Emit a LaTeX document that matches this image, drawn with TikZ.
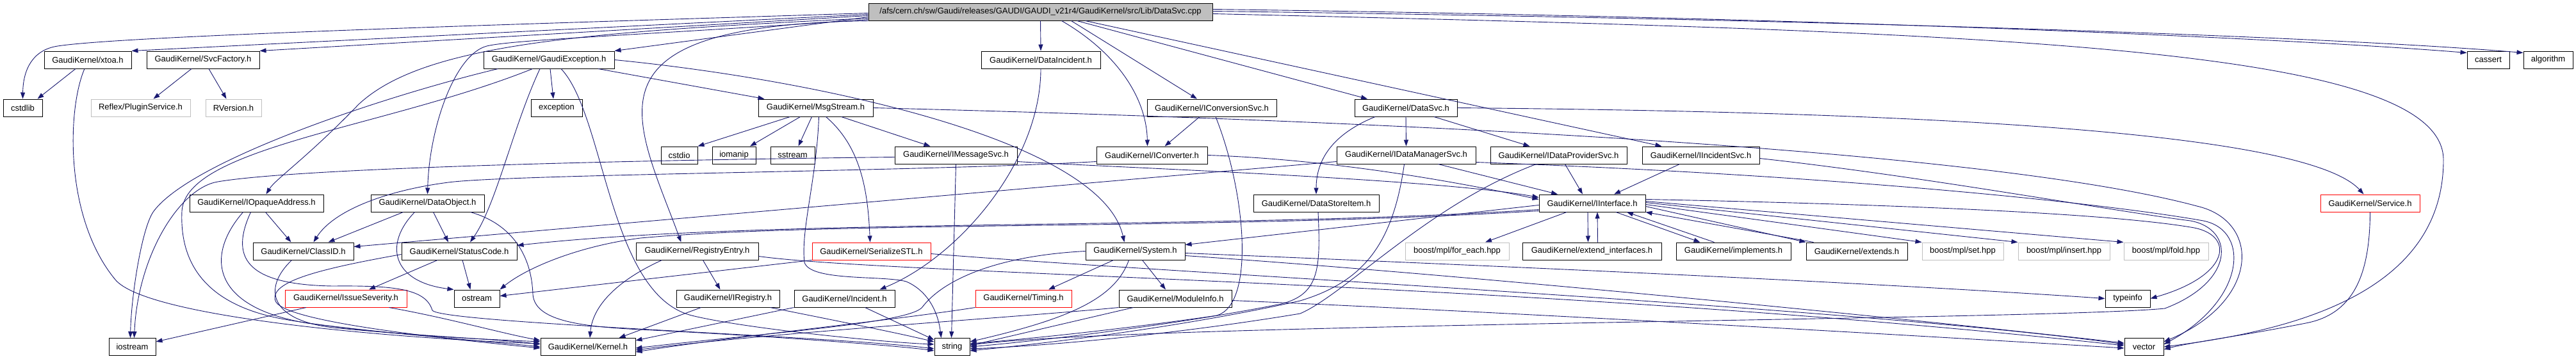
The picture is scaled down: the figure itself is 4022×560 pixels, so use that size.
\documentclass[tikz,border=0pt]{standalone}
\usepackage{fontspec}
\setmainfont{Liberation Sans}
\usetikzlibrary{arrows.meta,calc}
\definecolor{edgec}{HTML}{191970}
\definecolor{boxgray}{HTML}{BFBFBF}
\tikzset{
  nd/.style={draw=black,line width=1pt,rectangle,minimum height=27pt,inner xsep=2pt,inner ysep=0pt,text=black},
  gnd/.style={nd,draw=boxgray},
  rnd/.style={nd,draw=red},
  rootnd/.style={nd,fill=boxgray},
  e/.style={draw=edgec,line width=0.9pt,-{Triangle[length=10pt,width=7pt]}},
}
\newcommand\nbox[6][nd]{\node[#1,minimum width={#4-#3}] (#2) at ({(#3+#4)/2},#5) {#6};}
\begin{document}
\begin{tikzpicture}[x=1pt,y=-1pt,font=\fontsize{13}{15}\selectfont]
\useasboundingbox (0,0) rectangle (4022,560);
% ---------------- nodes
\nbox[rootnd]{root}{1356}{1893}{18.5}{/afs/cern.ch/sw/Gaudi/releases/GAUDI/GAUDI\_v21r4/GaudiKernel/src/Lib/DataSvc.cpp}
\nbox{xtoa}{69}{205}{93.5}{GaudiKernel/xtoa.h}
\nbox{svcf}{229}{405}{93.5}{GaudiKernel/SvcFactory.h}
\nbox{gexc}{755}{959}{93.5}{GaudiKernel/GaudiException.h}
\nbox{dinc}{1532}{1718}{93.5}{GaudiKernel/DataIncident.h}
\nbox{cassert}{3852}{3918}{93.5}{cassert}
\nbox{algo}{3940}{4017}{93.5}{algorithm}
\nbox{cstdlib}{5}{66}{168.5}{cstdlib}
\nbox[gnd]{reflex}{142}{297}{168.5}{Reflex/PluginService.h}
\nbox[gnd]{rver}{321}{408}{168.5}{RVersion.h}
\nbox{exc}{829}{909}{168.5}{exception}
\nbox{msg}{1184}{1363}{168.5}{GaudiKernel/MsgStream.h}
\nbox{iconvsvc}{1791}{1993}{168.5}{GaudiKernel/IConversionSvc.h}
\nbox{dsvc}{2115}{2275}{168.5}{GaudiKernel/DataSvc.h}
\nbox{cstdio}{1032}{1089}{242.5}{cstdio}
\nbox{iomanip}{1112}{1180}{242.5}{iomanip}
\nbox{sstream}{1203}{1272}{242.5}{sstream}
\nbox{imsg}{1397}{1588}{242.5}{GaudiKernel/IMessageSvc.h}
\nbox{iconv}{1712}{1885}{242.5}{GaudiKernel/IConverter.h}
\nbox{idm}{2087}{2304}{242.5}{GaudiKernel/IDataManagerSvc.h}
\nbox{idp}{2327}{2540}{242.5}{GaudiKernel/IDataProviderSvc.h}
\nbox{iinc}{2564}{2747}{242.5}{GaudiKernel/IIncidentSvc.h}
\nbox{iopaq}{296}{505}{317.5}{GaudiKernel/IOpaqueAddress.h}
\nbox{dobj}{579}{756}{317.5}{GaudiKernel/DataObject.h}
\nbox{dsi}{1957}{2153}{317.5}{GaudiKernel/DataStoreItem.h}
\nbox{iint}{2403}{2569}{317.5}{GaudiKernel/IInterface.h}
\nbox[rnd]{service}{3623}{3778}{317.5}{GaudiKernel/Service.h}
\nbox{clid}{395}{552}{392.5}{GaudiKernel/ClassID.h}
\nbox{sc}{627}{807}{392.5}{GaudiKernel/StatusCode.h}
\nbox{regent}{993}{1184}{392.5}{GaudiKernel/RegistryEntry.h}
\nbox[rnd]{ser}{1268}{1453}{392.5}{GaudiKernel/SerializeSTL.h}
\nbox{sys}{1695}{1850}{392.5}{GaudiKernel/System.h}
\nbox[gnd]{foreach}{2194}{2356}{392.5}{boost/mpl/for\_each.hpp}
\nbox{extif}{2377}{2594}{392.5}{GaudiKernel/extend\_interfaces.h}
\nbox{impl}{2617}{2796}{392.5}{GaudiKernel/implements.h}
\nbox{ext}{2820}{2978}{392.5}{GaudiKernel/extends.h}
\nbox[gnd]{mset}{3001}{3128}{392.5}{boost/mpl/set.hpp}
\nbox[gnd]{minsert}{3151}{3294}{392.5}{boost/mpl/insert.hpp}
\nbox[gnd]{mfold}{3316}{3448}{392.5}{boost/mpl/fold.hpp}
\nbox[rnd]{issue}{445}{635}{466.5}{GaudiKernel/IssueSeverity.h}
\nbox{ostream}{709}{780}{466.5}{ostream}
\nbox{ireg}{1056}{1217}{466.5}{GaudiKernel/IRegistry.h}
\nbox{incident}{1240}{1397}{466.5}{GaudiKernel/Incident.h}
\nbox[rnd]{timing}{1523}{1673}{466.5}{GaudiKernel/Timing.h}
\nbox{modinfo}{1747}{1923}{466.5}{GaudiKernel/ModuleInfo.h}
\nbox{typeinfo}{3287}{3357}{466.5}{typeinfo}
\nbox{iostream}{170}{243}{542}{iostream}
\nbox{kernel}{844}{992}{542}{GaudiKernel/Kernel.h}
\nbox{string}{1459}{1514}{542}{string}
\nbox{vector}{3317}{3378}{542}{vector}
% ---------------- root edges
\draw[e] ($(root.west)+(0,2)$) .. controls (900,35) and (200,55) .. (90,72) .. controls (50,78) and (36,110) .. (cstdlib.north);
\draw[e] ($(root.west)+(0,4)$) -- (xtoa.north east);
\draw[e] ($(root.west)+(0,6)$) -- (svcf.north east);
\draw[e] ($(root.west)+(0,8)$) -- (gexc.north east);
\draw[e] ($(root.west)+(0,10)$) .. controls (900,50) and (660,70) .. (560,163) .. controls (480,246) and (430,280) .. ($(iopaq.north)+(15,0)$);
\draw[e] ($(root.west)+(0,12)$) .. controls (1000,55) and (800,62) .. (760,72) .. controls (710,85) and (670,200) .. (dobj.north);
\draw[e] (root.south west) .. controls (900,40) and (990,180) .. ($(regent.north)+(-25,0)$);
\draw[e] ($(root.south)+(33,0)$) .. controls (1740,80) and (1790,150) .. ($(iconv.north)+(-7,0)$);
\draw[e] (root.south) -- (dinc.north);
\draw[e] ($(root.south)+(48,0)$) -- ($(iconvsvc.north)+(-23,0)$);
\draw[e] ($(root.south)+(57,0)$) -- ($(dsvc.north)+(-60,0)$);
\draw[e] ($(root.south)+(70,0)$) -- ($(iinc.north)+(-61,0)$);
\draw[e] ($(root.east)+(0,-4)$) .. controls (2900,28) and (3600,62) .. ($(cassert.north west)+(0,3)$);
\draw[e] ($(root.east)+(0,-1)$) .. controls (2900,31) and (3650,58) .. ($(algo.north west)+(0,3)$);
\draw[e] ($(root.east)+(0,3)$) .. controls (3100,50) and (3815,70) .. (3815,250) .. controls (3815,470) and (3550,520) .. (vector.east);
% ---------------- xtoa, SvcFactory
\draw[e] ($(xtoa.south)+(-19,0)$) -- ($(cstdlib.north east)+(-8,0)$);
\draw[e] ($(xtoa.south)+(-5,0)$) .. controls (105,170) and (100,340) .. (180,437) .. controls (228,495) and (600,528) .. ($(kernel.west)+(0,-5)$);
\draw[e] ($(svcf.south)+(-18,0)$) -- ($(reflex.north)+(20,0)$);
\draw[e] ($(svcf.south)+(9,0)$) -- ($(rver.north)+(-11,0)$);
% ---------------- GaudiException
\draw[e] ($(gexc.south)+(2,0)$) -- ($(exc.north)+(-5,0)$);
\draw[e] ($(gexc.south)+(77,0)$) -- ($(msg.north)+(-80,0)$);
\draw[e] ($(gexc.south)+(-14,0)$) .. controls (800,200) and (775,320) .. ($(sc.north)+(17,0)$);
\draw[e] ($(gexc.south)+(19,0)$) .. controls (945,180) and (950,460) .. (1080,493) .. controls (1160,513) and (1380,535) .. ($(string.west)+(0,-4)$);
\draw[e] (gexc.east) .. controls (1280,125) and (1720,220) .. ($(sys.north)+(-17,0)$);
\draw[e] ($(gexc.south west)+(23,0)$) .. controls (600,150) and (300,250) .. (240,330) .. controls (222,354) and (205,460) .. ($(iostream.north)+(-3,0)$);
\draw[e] ($(gexc.south west)+(77,0)$) .. controls (600,200) and (290,230) .. (284,330) .. controls (280,420) and (330,480) .. (450,500) .. controls (600,525) and (760,530) .. ($(kernel.west)+(0,-8)$);
% ---------------- MsgStream
\draw[e] ($(msg.south)+(-40,0)$) -- (cstdio.north east);
\draw[e] ($(msg.south)+(-24,0)$) -- ($(iomanip.north)+(25,0)$);
\draw[e] ($(msg.south)+(-6,0)$) -- ($(sstream.north)+(9,0)$);
\draw[e] ($(msg.south)+(5,0)$) .. controls (1275,280) and (1250,360) .. (1256,410) .. controls (1265,440) and (1380,430) .. (1415,440) .. controls (1450,455) and (1465,490) .. ($(string.north)+(-17,0)$);
\draw[e] ($(msg.south)+(16,0)$) .. controls (1345,230) and (1355,300) .. ($(ser.north)+(-2,0)$);
\draw[e] ($(msg.south east)+(-50,0)$) -- ($(imsg.north)+(-40,0)$);
\draw[e] (msg.east) .. controls (2600,200) and (3200,260) .. (3430,322) .. controls (3530,345) and (3530,470) .. ($(vector.east)+(0,-8)$);
% ---------------- IMessageSvc, IConversionSvc, IConverter
\draw[e] (imsg.south) -- ($(string.north)+(-1,0)$);
\draw[e] ($(imsg.west)+(0,3)$) .. controls (1000,250) and (470,262) .. (340,284) .. controls (280,294) and (215,400) .. ($(iostream.north)+(3,0)$);
\draw[e] ($(imsg.east)+(0,10)$) .. controls (1750,262) and (2250,280) .. ($(iint.west)+(0,-9)$);
\draw[e] ($(iconvsvc.south)+(-19,0)$) -- ($(iconv.north)+(20,0)$);
\draw[e] ($(iconvsvc.south)+(6,0)$) .. controls (1945,300) and (1960,475) .. (1900,493) .. controls (1750,515) and (1600,530) .. ($(string.east)+(0,-5)$);
\draw[e] (iconv.east) .. controls (2100,250) and (2300,290) .. ($(iint.west)+(0,-6)$);
\draw[e] ($(iconv.west)+(0,10)$) .. controls (1450,268) and (800,272) .. (700,285) .. controls (600,298) and (520,330) .. ($(clid.north)+(16,0)$);
% ---------------- DataIncident, DataSvc
\draw[e] (dinc.south) .. controls (1625,250) and (1500,400) .. ($(incident.north)+(55,0)$);
\draw[e] ($(dsvc.south)+(-48,0)$) .. controls (2080,210) and (2055,250) .. (dsi.north);
\draw[e] (dsvc.south) -- (idm.north);
\draw[e] ($(dsvc.south)+(44,0)$) -- ($(idp.north)+(-45,0)$);
\draw[e] (dsvc.east) .. controls (3000,175) and (3600,205) .. ($(service.north)+(-10,0)$);
% ---------------- IDataManagerSvc, IDataProviderSvc, IIncidentSvc
\draw[e] ($(idm.west)+(0,10)$) -- ($(clid.east)+(0,-7)$);
\draw[e] ($(idm.south)+(-3,0)$) .. controls (2175,380) and (2130,440) .. (2030,470) .. controls (1850,510) and (1650,535) .. ($(string.east)+(0,6)$);
\draw[e] ($(idm.south)+(50,0)$) -- ($(iint.north)+(-54,0)$);
\draw[e] ($(idm.east)+(0,11)$) .. controls (2900,275) and (3300,320) .. (3440,345) .. controls (3515,360) and (3505,470) .. ($(vector.east)+(0,-4)$);
\draw[e] ($(idp.south)+(-35,0)$) .. controls (2230,320) and (2100,460) .. (2030,490) .. controls (1850,520) and (1650,540) .. ($(string.east)+(0,3)$);
\draw[e] ($(idp.south)+(10,0)$) -- ($(iint.north)+(-15,0)$);
\draw[e] ($(iinc.south)+(-33,0)$) -- ($(iint.north)+(34,0)$);
\draw[e] ($(iinc.east)+(0,5)$) .. controls (3000,275) and (3300,330) .. (3420,345) .. controls (3490,358) and (3490,440) .. (3380,482) .. controls (3200,500) and (1800,505) .. ($(string.east)+(0,-3)$);
% ---------------- DataStoreItem
\draw[e] ($(dsi.south)+(3,0)$) .. controls (2062,420) and (2060,460) .. (2000,475) .. controls (1850,505) and (1650,530) .. (string.east);
% ---------------- IInterface
\draw[e] ($(iint.south)+(-40,0)$) -- ($(foreach.north)+(44,0)$);
\draw[e] ($(iint.south)+(-7,0)$) -- ($(extif.north)+(-6,0)$);
\draw[e] ($(extif.north)+(9,0)$) -- ($(iint.south)+(8,0)$);
\draw[e] ($(iint.south)+(37,0)$) -- ($(impl.north)+(-52,0)$);
\draw[e] ($(impl.north)+(-30,0)$) -- ($(iint.south)+(54,0)$);
\draw[e] ($(iint.east)+(0,5)$) -- (ext.north west);
\draw[e] ($(ext.north west)+(12,0)$) -- (iint.south east);
\draw[e] ($(iint.east)+(0,2)$) -- (mset.north west);
\draw[e] ($(iint.east)+(0,-1)$) -- (minsert.north west);
\draw[e] ($(iint.east)+(0,-3)$) -- (mfold.north west);
\draw[e] ($(iint.east)+(0,-6)$) .. controls (3000,320) and (3300,335) .. (3420,355) .. controls (3490,365) and (3485,430) .. (typeinfo.east);
\draw[e] ($(iint.west)+(0,3)$) -- ($(sys.north east)+(0,4)$);
\draw[e] ($(iint.west)+(0,10)$) .. controls (1900,360) and (1200,340) .. ($(sc.east)+(0,-9)$);
\draw[e] ($(iint.west)+(0,12)$) .. controls (1900,360) and (1300,345) .. (1000,372) .. controls (900,385) and (820,420) .. (ostream.north east);
% ---------------- System, ModuleInfo, Timing
\draw[e] ($(sys.south)+(-34,0)$) -- ($(timing.north)+(39,0)$);
\draw[e] ($(sys.south)+(11,0)$) -- ($(modinfo.north)+(-15,0)$);
\draw[e] ($(sys.south)+(-10,0)$) .. controls (1740,470) and (1660,500) .. ($(string.east)+(0,-8)$);
\draw[e] (sys.west) .. controls (1550,400) and (1470,440) .. (1440,480) .. controls (1420,505) and (1200,520) .. ($(kernel.east)+(0,2)$);
\draw[e] ($(sys.east)+(0,3)$) .. controls (2300,414) and (2900,440) .. (typeinfo.west);
\draw[e] ($(sys.east)+(0,7)$) .. controls (2300,430) and (3000,500) .. ($(vector.west)+(0,-6)$);
\draw[e] ($(modinfo.south west)+(23,0)$) -- ($(string.east)+(0,-2)$);
\draw[e] (modinfo.south west) .. controls (1600,495) and (1200,520) .. ($(kernel.east)+(0,5)$);
\draw[e] ($(modinfo.east)+(0,3)$) .. controls (2400,490) and (3000,525) .. ($(vector.west)+(0,2)$);
\draw[e] (timing.south west) .. controls (1400,500) and (1150,525) .. ($(kernel.east)+(0,8)$);
% ---------------- RegistryEntry, IRegistry, Incident, SerializeSTL
\draw[e] ($(regent.south)+(9,0)$) -- ($(ireg.north)+(-12,0)$);
\draw[e] ($(regent.south)+(-55,0)$) .. controls (960,440) and (925,480) .. ($(kernel.north)+(3,0)$);
\draw[e] ($(regent.east)+(0,8)$) .. controls (1400,430) and (2400,440) .. ($(vector.west)+(0,-2)$);
\draw[e] ($(ireg.south)+(-42,0)$) -- ($(kernel.north east)+(-26,0)$);
\draw[e] ($(ireg.south east)+(-15,0)$) .. controls (1300,500) and (1400,520) .. ($(string.west)+(0,-8)$);
\draw[e] (incident.south west) -- ($(kernel.north east)+(0,4)$);
\draw[e] ($(incident.south)+(32,0)$) -- ($(string.west)+(0,-11)$);
\draw[e] (ser.south west) -- ($(ostream.east)+(0,-4)$);
\draw[e] ($(ser.east)+(0,4)$) .. controls (1800,425) and (2900,480) .. ($(vector.west)+(0,-4)$);
% ---------------- IOpaqueAddress, DataObject, ClassID, StatusCode, IssueSeverity
\draw[e] ($(iopaq.south)+(14,0)$) -- ($(clid.north)+(-19,0)$);
\draw[e] ($(iopaq.south)+(-21,0)$) .. controls (320,400) and (330,480) .. (480,505) .. controls (620,523) and (760,533) .. (kernel.west);
\draw[e] ($(iopaq.south)+(-9,0)$) .. controls (360,400) and (380,445) .. (520,447) .. controls (620,446) and (665,452) .. (675,485) .. controls (690,505) and (1300,525) .. ($(string.west)+(0,3)$);
\draw[e] ($(dobj.south)+(-38,0)$) -- ($(clid.north)+(39,0)$);
\draw[e] ($(dobj.south)+(9,0)$) -- ($(sc.north)+(-17,0)$);
\draw[e] ($(dobj.south)+(-20,0)$) .. controls (600,380) and (610,440) .. (ostream.north west);
\draw[e] ($(dobj.south east)+(-22,0)$) .. controls (800,350) and (830,400) .. (832,460) .. controls (835,500) and (900,510) .. (1000,515) .. controls (1200,525) and (1400,540) .. ($(string.west)+(0,6)$);
\draw[e] ($(clid.south)+(-18,0)$) .. controls (410,450) and (420,500) .. (520,512) .. controls (650,525) and (780,530) .. ($(kernel.west)+(0,-4)$);
\draw[e] ($(sc.south)+(5,0)$) -- ($(ostream.north)+(-10,0)$);
\draw[e] ($(sc.south)+(-34,0)$) -- ($(issue.north)+(36,0)$);
\draw[e] ($(sc.west)+(0,5)$) .. controls (500,420) and (420,440) .. (430,470) .. controls (440,500) and (650,525) .. ($(kernel.west)+(0,2)$);
\draw[e] ($(issue.south)+(-62,0)$) -- ($(iostream.east)+(0,-8)$);
\draw[e] ($(issue.south east)+(-28,0)$) .. controls (700,497) and (780,520) .. ($(kernel.west)+(0,-10)$);
% ---------------- Service
\draw[e] (service.south) .. controls (3700,420) and (3680,490) .. (3600,505) .. controls (3500,525) and (3420,535) .. ($(vector.east)+(0,4)$);
\end{tikzpicture}
\end{document}
